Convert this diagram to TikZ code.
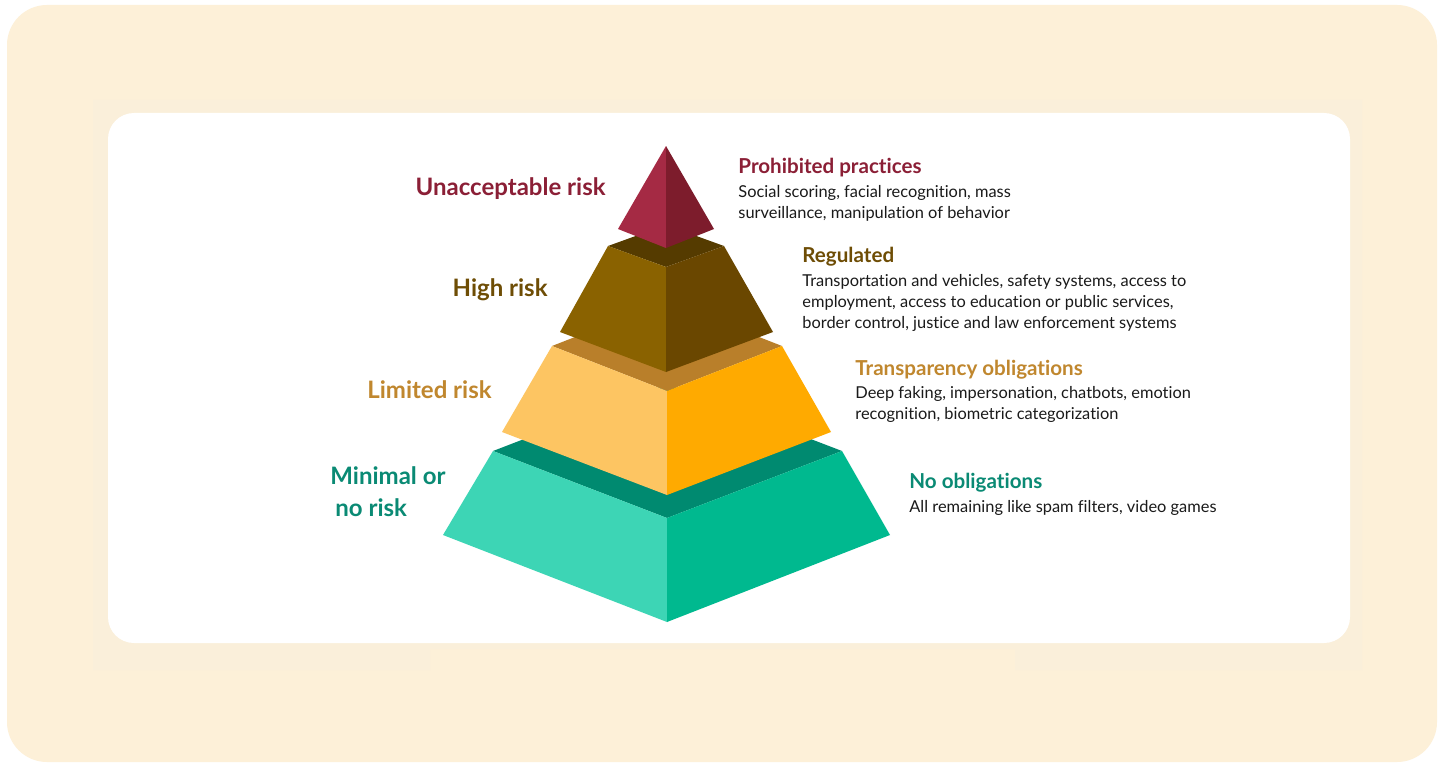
\documentclass[tikz,border=0pt]{standalone}
\usepackage{fontspec}
\setmainfont{Lato}[Ligatures={NoCommon}]
\definecolor{creambg}{HTML}{FDF0D8}
\definecolor{bandbg}{HTML}{FAEFDA}
\definecolor{redL}{HTML}{A52A44}
\definecolor{redR}{HTML}{7D1C2C}
\definecolor{brT}{HTML}{553B00}
\definecolor{brL}{HTML}{8A6200}
\definecolor{brR}{HTML}{6A4700}
\definecolor{orT}{HTML}{B97F2A}
\definecolor{orL}{HTML}{FDC562}
\definecolor{orR}{HTML}{FFAA00}
\definecolor{grT}{HTML}{008A70}
\definecolor{grL}{HTML}{3DD5B5}
\definecolor{grR}{HTML}{00B98F}
\definecolor{txRed}{HTML}{8B1F36}
\definecolor{txBr}{HTML}{6E4D05}
\definecolor{txOr}{HTML}{C0872E}
\definecolor{txGr}{HTML}{0A8A74}
\definecolor{txBody}{HTML}{1A1A1A}
\tikzset{
  risklabel/.style={inner sep=0pt, anchor=base east, font=\bfseries\fontsize{12}{14}\selectfont},
  headlabel/.style={inner sep=0pt, anchor=base west, font=\bfseries\fontsize{10.3}{12}\selectfont},
  bodytext/.style={inner sep=0pt, anchor=base west, align=left, text=txBody, font=\fontsize{8.2}{10.5}\selectfont},
}
\begin{document}
\begin{tikzpicture}[x=0.5pt,y=-0.5pt]
\useasboundingbox (0,0) rectangle (1445,765);
\fill[white] (0,0) rectangle (1445,765);
% backgrounds
\fill[creambg, rounded corners=20pt] (7,5) rectangle (1437,762);
\fill[bandbg] (93,100) -- (1362,100) -- (1362,670) -- (1015,670) -- (1015,649) -- (430,649) -- (430,670) -- (93,670) -- cycle;
\fill[white, rounded corners=13pt] (108,113) rectangle (1350,643);
% green tier
\fill[grT] (493,451) -- (667,384) -- (842,451) -- (667,518) -- cycle;
\fill[grL] (493,451) -- (667,518) -- (667,622) -- (443,535) -- cycle;
\fill[grR] (667,518) -- (842,451) -- (890,535) -- (667,622) -- cycle;
% orange tier
\fill[orT] (552,346) -- (667,301) -- (782,346) -- (667,391) -- cycle;
\fill[orL] (552,346) -- (667,391) -- (667,495) -- (502,432) -- cycle;
\fill[orR] (667,391) -- (782,346) -- (831,432) -- (667,495) -- cycle;
% brown tier
\fill[brT] (608,246) -- (666,225) -- (724,246) -- (666,267) -- cycle;
\fill[brL] (608,246) -- (666,267) -- (666,372) -- (560,332) -- cycle;
\fill[brR] (666,267) -- (724,246) -- (773,332) -- (666,372) -- cycle;
% red top
\fill[redL] (666,146) -- (618,229) -- (666,248) -- cycle;
\fill[redR] (666,146) -- (666,248) -- (714,229) -- cycle;
% left labels
\node[risklabel, text=txRed] (unacc) at (606,195) {Unacceptable risk};
\node[risklabel, text=txBr] (high) at (548,296) {High risk};
\node[risklabel, text=txOr] (limited) at (492,398) {Limited risk};
\node[risklabel, anchor=base west, text=txGr] (minimal1) at (330,484) {Minimal or};
\node[risklabel, anchor=base west, text=txGr] (minimal2) at (335,516) {no risk};
% right texts (base = baseline of the last line)
\node[headlabel, text=txRed] (prohib) at (738,173) {Prohibited practices};
\node[bodytext] (prohibB) at (738,218) {Social scoring, facial recognition, mass\\surveillance, manipulation of behavior};
\node[headlabel, text=txBr] (regul) at (802,262) {Regulated};
\node[bodytext] (regulB) at (802,328) {Transportation and vehicles, safety systems, access to\\employment, access to education or public services,\\border control, justice and law enforcement systems};
\node[headlabel, text=txOr] (transp) at (855,375) {Transparency obligations};
\node[bodytext] (transpB) at (855,419) {Deep faking, impersonation, chatbots, emotion\\recognition, biometric categorization};
\node[headlabel, text=txGr] (noobl) at (909,488) {No obligations};
\node[bodytext] (noob1B) at (909,512) {All remaining like spam filters, video games};
\end{tikzpicture}
\end{document}
